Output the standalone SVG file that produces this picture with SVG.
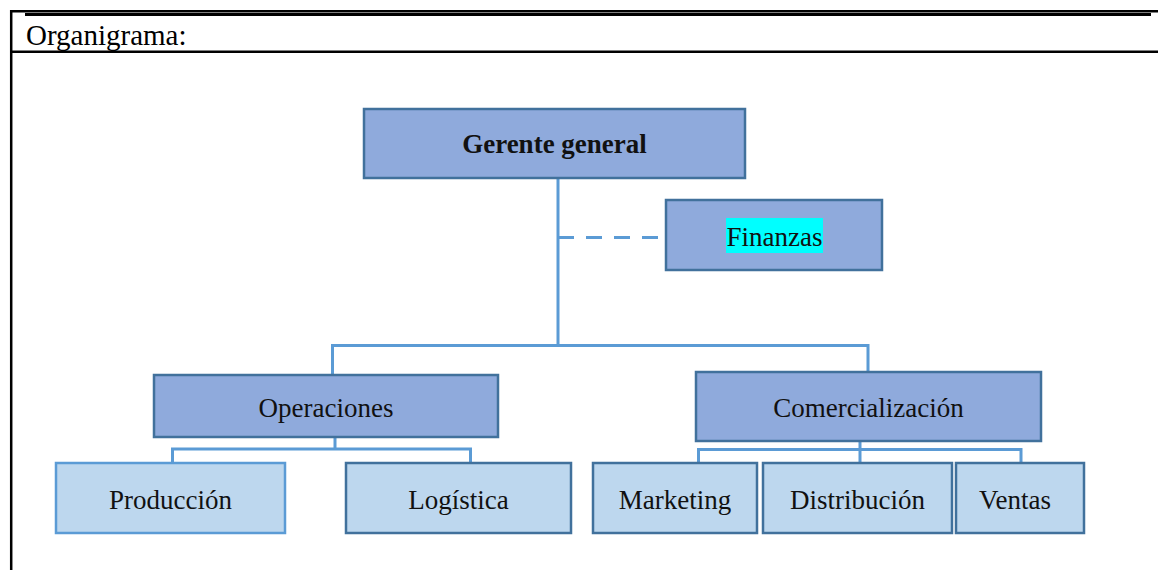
<svg xmlns="http://www.w3.org/2000/svg" width="1158" height="570" viewBox="0 0 1158 570">
  <style>
    .frame { stroke: #000; fill: none; }
    .title { font-family: "Liberation Serif", "Times New Roman", serif; font-size: 29px; fill: #000; }
    .lbl { font-family: "Liberation Serif", "Times New Roman", serif; font-size: 27px; fill: #111; text-anchor: middle; }
    .bold { font-weight: bold; }
    .mid { fill: #8FAADC; stroke: #41719C; stroke-width: 2.5; }
    .light { fill: #BDD7EE; stroke: #41719C; stroke-width: 2.5; }
    .light-alt { fill: #BDD7EE; stroke: #5B9BD5; stroke-width: 2.5; }
    .conn { stroke: #5B9BD5; stroke-width: 3; fill: none; }
    .dash { stroke-dasharray: 16 12; }
  </style>

  <rect width="1158" height="570" fill="#fff"/>

  <!-- table frame -->
  <g id="frame">
    <line class="frame" x1="10" y1="11.2" x2="1158" y2="11.2" stroke-width="2.5"/>
    <line class="frame" x1="25" y1="14.5" x2="1151" y2="14.5" stroke-width="3"/>
    <line class="frame" x1="11.2" y1="10" x2="11.2" y2="570" stroke-width="2.5"/>
    <line class="frame" x1="10" y1="51.8" x2="1158" y2="51.8" stroke-width="2.5"/>
    <text class="title" x="26" y="45">Organigrama:</text>
  </g>

  <!-- connectors -->
  <g id="connectors">
    <line class="conn" x1="558" y1="178" x2="558" y2="346"/>
    <line class="conn dash" x1="558" y1="237.5" x2="666" y2="237.5"/>
    <polyline class="conn" points="332.5,375 332.5,345.5 868,345.5 868,372"/>
    <line class="conn" x1="335" y1="437" x2="335" y2="449"/>
    <polyline class="conn" points="172.5,463 172.5,449 470.5,449 470.5,463"/>
    <line class="conn" x1="860" y1="441" x2="860" y2="463"/>
    <polyline class="conn" points="698.5,463 698.5,449.5 1021,449.5 1021,463"/>
  </g>

  <g id="gerente">
    <rect class="mid" x="364" y="109" width="381" height="69"/>
    <text class="lbl bold" x="554.5" y="153">Gerente general</text>
  </g>

  <g id="finanzas">
    <rect class="mid" x="666" y="200" width="216" height="70"/>
    <rect x="726" y="218" width="97" height="35" fill="#00FFFF"/>
    <text class="lbl" x="774.5" y="246">Finanzas</text>
  </g>

  <g id="operaciones">
    <rect class="mid" x="154" y="375" width="344" height="62"/>
    <text class="lbl" x="326" y="417">Operaciones</text>
  </g>

  <g id="comercializacion">
    <rect class="mid" x="696" y="372" width="345" height="69"/>
    <text class="lbl" x="868.5" y="417">Comercialización</text>
  </g>

  <g id="produccion">
    <rect class="light-alt" x="56" y="463" width="229" height="70"/>
    <text class="lbl" x="170.5" y="509">Producción</text>
  </g>

  <g id="logistica">
    <rect class="light" x="346" y="463" width="225" height="70"/>
    <text class="lbl" x="458.5" y="509">Logística</text>
  </g>

  <g id="marketing">
    <rect class="light" x="593" y="463" width="164" height="70"/>
    <text class="lbl" x="675" y="509">Marketing</text>
  </g>

  <g id="distribucion">
    <rect class="light" x="763" y="463" width="189" height="70"/>
    <text class="lbl" x="857.5" y="509">Distribución</text>
  </g>

  <g id="ventas">
    <rect class="light" x="956" y="463" width="128" height="70"/>
    <text class="lbl" x="1015" y="509">Ventas</text>
  </g>
</svg>
